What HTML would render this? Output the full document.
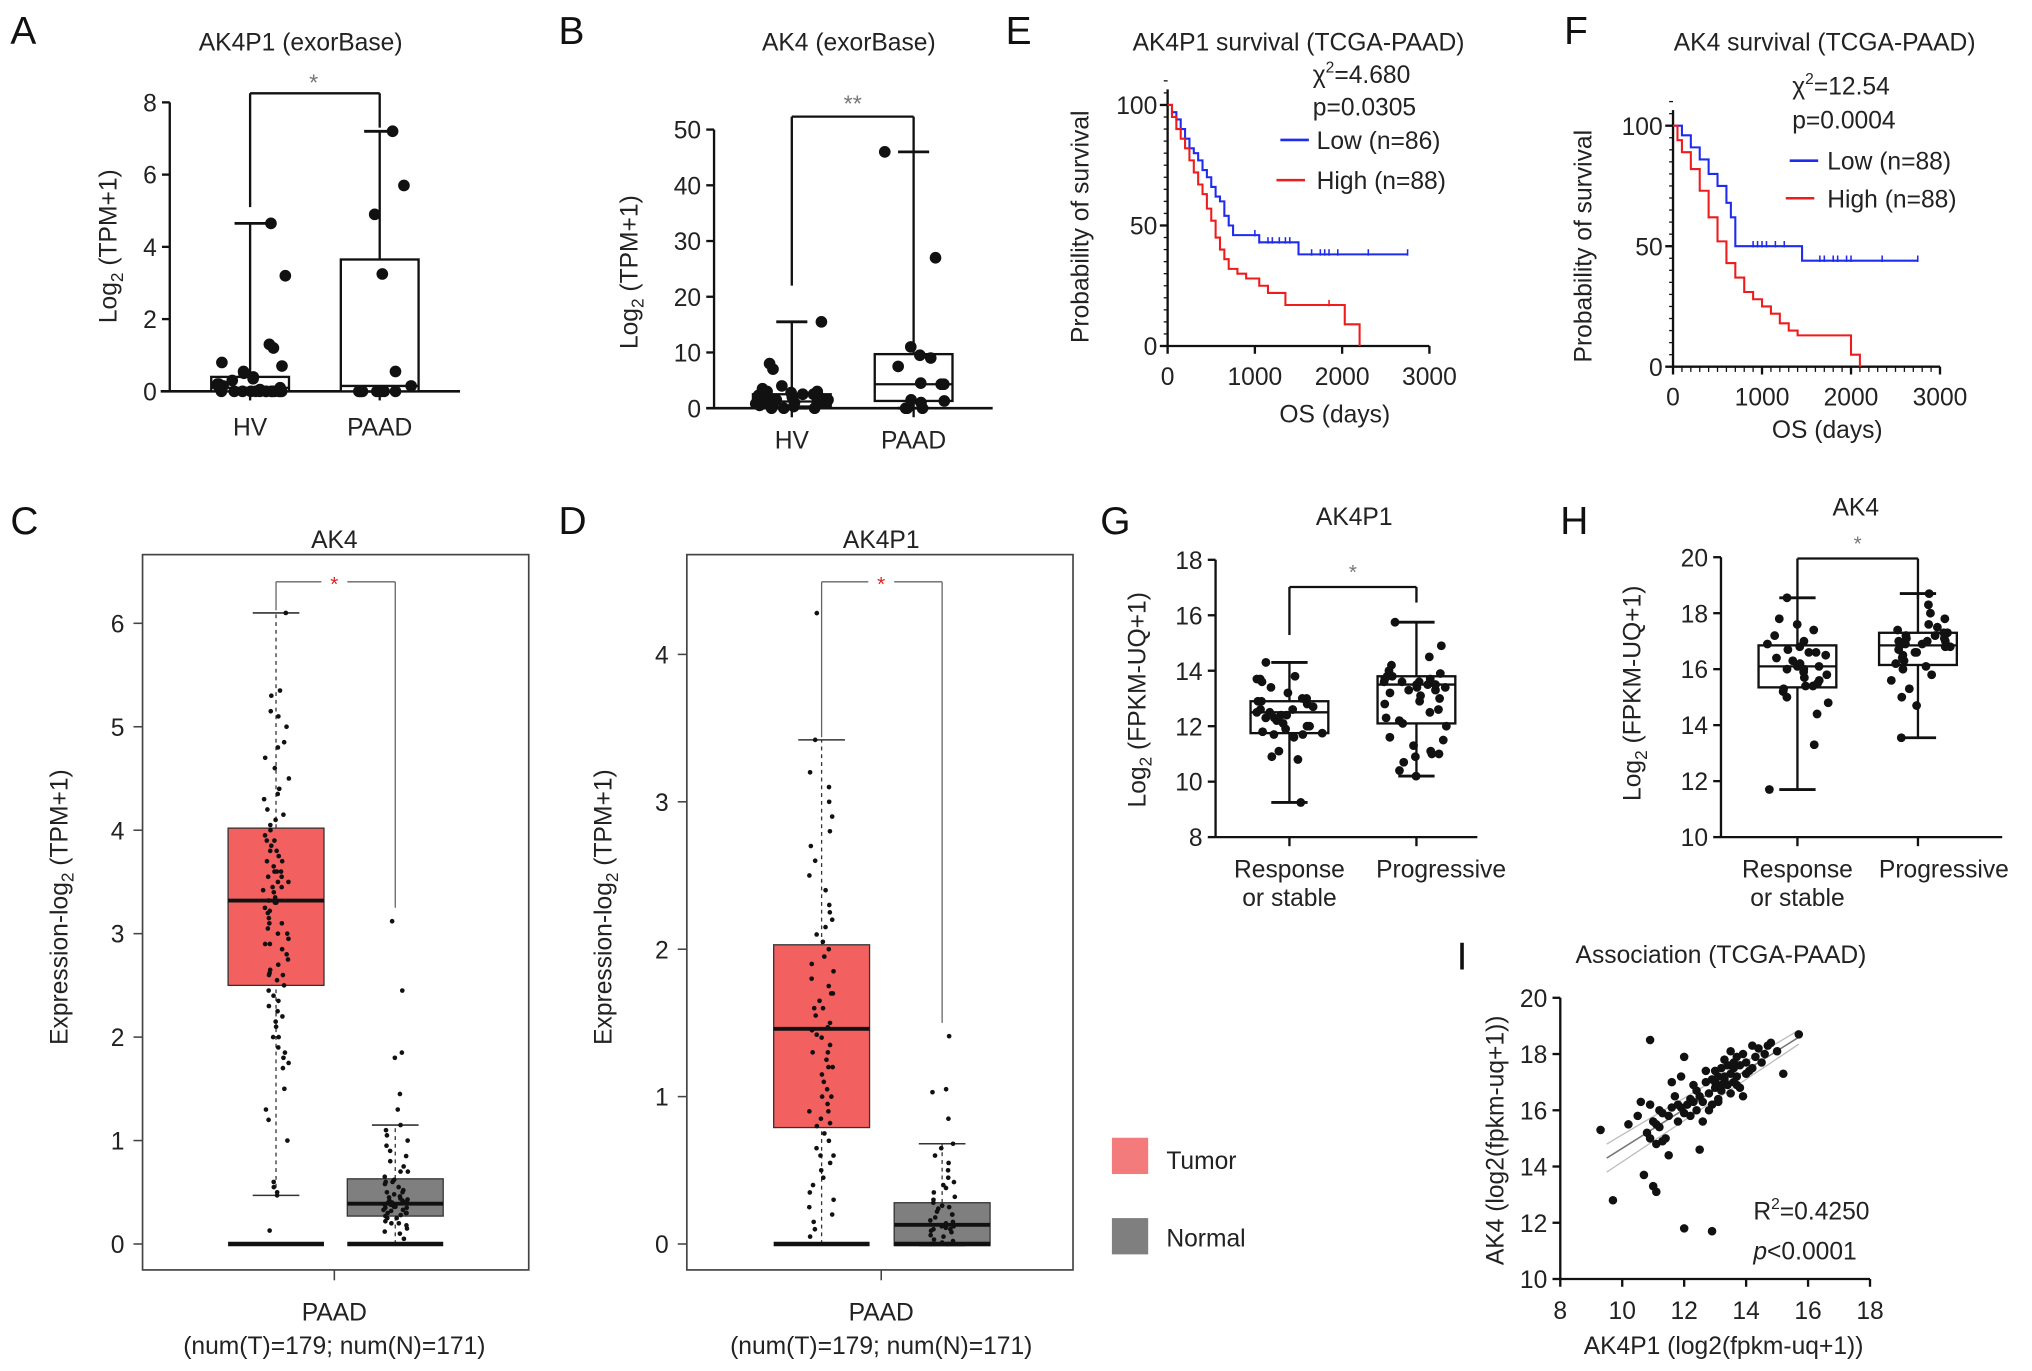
<!DOCTYPE html>
<html><head><meta charset="utf-8"><style>
html,body{margin:0;padding:0;background:#fff;}
svg{display:block;font-family:"Liberation Sans",Arial,sans-serif;}
</style></head><body>
<svg id="fig" xmlns="http://www.w3.org/2000/svg" width="2032" height="1371" viewBox="0 0 1568 1058" preserveAspectRatio="none"></svg>
<script>
// ---------- DATA ----------
const aCats=["HV","PAAD"];
const aHV=[0,0,0,0,0,0,0,0,0,0,0,0,0,0,0.05,0.1,0.1,0.15,0.2,0.2,0.3,0.35,0.4,0.5,0.55,0.7,0.8,1.2,1.3,3.2,4.65];
const aPAAD=[0,0,0,0,0,0,0,0,0.15,0.55,3.25,4.9,5.7,7.2];
const aBoxHV=[0,0,0.1,0.4,4.65];
const aBoxPAAD=[0,0,0.15,3.65,7.2];
const aTicks=[0,2,4,6,8];
const bHV=[0,0,0,0.3,0.5,0.8,1,1,1.2,1.5,1.5,2,2,2,2.3,2.5,2.5,2.8,3,3,3.5,4,1,0.5,7,8,15.5];
const bPAAD=[0,0,0,1,1.3,1.5,4.3,4.5,4.3,7.5,9,9.5,11,27,46];
const bBoxHV=[0,0.3,1.2,2.5,15.5];
const bBoxPAAD=[0,1.3,4.3,9.7,46];
const bTicks=[0,10,20,30,40,50];
const eLowT=[0,50,100,150,200,250,300,350,400,450,500,550,600,650,700,750,1050,1500,2750];
const eLowS=[100,97,94,90,86,82,80,77,73,70,66,62,60,54,50,46,43,38,38];
const eHighT=[0,50,100,150,200,250,300,350,400,450,500,550,600,650,700,800,900,1050,1150,1350,2030,2200];
const eHighS=[100,95,90,86,82,77,72,67,63,57,52,45,40,36,32,30,28,25,22,17,9,0];
const eLowCens=[1000,1050,1150,1200,1280,1350,1400,1650,1750,1800,1850,1950,2300,2750];
const eHighCens=[1850];
const fLowT=[0,100,200,300,400,500,600,650,700,1450,2750];
const fLowS=[100,96,91,86,80,75,68,62,50,44,44];
const fHighT=[0,50,100,200,300,400,500,600,700,800,900,1000,1100,1200,1300,1400,2000,2100];
const fHighS=[100,94,89,82,73,62,52,43,37,31,28,25,22,18,15,13,5,0];
const fLowCens=[900,950,1000,1050,1150,1250,1650,1700,1800,1850,1950,2000,2350,2750];
const kmXTicks=[0,1000,2000,3000];
const kmYTicks=[0,50,100];
const cTumor=[0.13,0.47,0.5,0.55,0.6,1.0,1.3,1.5,1.7,1.75,1.8,1.85,1.9,2.0,2.1,2.15,2.2,2.3,2.35,2.4,2.45,2.5,2.55,2.6,2.62,2.65,2.7,2.75,2.8,2.85,2.9,2.95,3.0,3.05,3.1,3.15,3.2,3.22,3.25,3.3,3.32,3.35,3.4,3.42,3.45,3.5,3.5,3.55,3.6,3.6,3.65,3.7,3.7,3.75,3.8,3.8,3.85,3.9,3.9,3.95,4.0,4.05,4.1,4.15,4.2,4.3,4.35,4.4,4.5,4.6,4.7,4.8,4.85,5.0,5.1,5.15,5.3,5.35,6.1,2.0,2.6,3.1,3.3,3.6,2.9,3.45,1.2,2.25,3.0,3.55];
const cNormal=[0.05,0.1,0.12,0.15,0.18,0.2,0.22,0.25,0.27,0.28,0.3,0.3,0.32,0.33,0.35,0.35,0.36,0.37,0.38,0.39,0.4,0.4,0.41,0.42,0.43,0.45,0.46,0.48,0.5,0.52,0.55,0.58,0.6,0.62,0.65,0.7,0.75,0.8,0.85,0.9,0.95,1.0,1.05,1.1,1.15,1.3,1.45,1.8,1.85,2.45,3.12,0.2,0.3,0.36,0.38,0.42,0.44,0.5,0.25,0.33,0.6,0.7];
const cBoxT=[0.47,2.5,3.32,4.02,6.1];
const cBoxN=[0,0.27,0.39,0.63,1.15];
const cTicks=[0,1,2,3,4,5,6];
const dTumor=[0.05,0.1,0.15,0.2,0.25,0.3,0.35,0.4,0.45,0.5,0.55,0.6,0.65,0.7,0.75,0.8,0.82,0.85,0.9,0.95,1.0,1.05,1.1,1.15,1.2,1.25,1.3,1.35,1.4,1.42,1.45,1.47,1.5,1.55,1.6,1.65,1.7,1.75,1.8,1.85,1.9,1.95,2.0,2.05,2.1,2.15,2.2,2.3,2.4,2.5,2.6,2.7,2.8,2.9,3.0,3.1,3.2,3.42,4.28,1.0,1.2,1.6,0.9,1.3,1.7,2.25,0.6];
const dNormal=[0,0,0.01,0.02,0.03,0.05,0.06,0.08,0.09,0.1,0.11,0.12,0.13,0.14,0.15,0.16,0.18,0.2,0.22,0.24,0.26,0.28,0.3,0.32,0.35,0.38,0.4,0.42,0.45,0.5,0.55,0.6,0.65,0.68,0.85,1.03,1.05,1.41,0.1,0.12,0.2,0.25];
const dBoxT=[0,0.79,1.46,2.03,3.42];
const dBoxN=[-0.01,-0.01,0.13,0.28,0.68];
const dTicks=[0,1,2,3,4];
const gResp=[9.25,10.8,10.9,11.1,11.6,11.7,11.75,11.8,11.9,12.0,12.1,12.2,12.3,12.4,12.4,12.5,12.5,12.6,12.7,12.8,12.9,12.9,13.0,13.2,13.4,13.6,13.7,13.7,13.8,14.3,12.0,11.7,12.3,12.6,13.0];
const gProg=[10.2,10.4,10.7,10.9,11.0,11.1,11.3,11.5,11.6,12.0,12.1,12.3,12.5,12.6,12.8,12.9,13.0,13.1,13.2,13.3,13.4,13.4,13.5,13.5,13.6,13.6,13.7,13.7,13.8,13.8,13.9,14.0,14.2,14.5,14.9,15.75,13.3,13.5,13.6,12.2,11.0];
const gBoxResp=[9.25,11.75,12.5,12.9,14.3];
const gBoxProg=[10.2,12.1,13.5,13.8,15.75];
const gTicks=[8,10,12,14,16,18];
const hResp=[11.7,13.3,14.4,14.8,15.0,15.2,15.3,15.4,15.5,15.6,15.7,15.8,15.9,16.0,16.1,16.1,16.2,16.3,16.4,16.5,16.6,16.7,16.8,16.9,17.0,17.2,17.4,17.6,17.8,18.55,15.4,16.0,16.6];
const hProg=[13.55,14.7,15.0,15.3,15.6,15.8,16.0,16.1,16.2,16.3,16.4,16.5,16.6,16.7,16.8,16.8,16.9,16.9,17.0,17.0,17.1,17.1,17.2,17.2,17.3,17.3,17.4,17.5,17.6,17.8,18.0,18.3,18.7,16.6,16.9,17.0];
const hBoxResp=[11.7,15.35,16.1,16.85,18.55];
const hBoxProg=[13.55,16.15,16.85,17.3,18.7];
const hTicks=[10,12,14,16,18,20];
const iX=[9.3,9.7,10.2,10.5,10.6,10.7,10.8,10.9,10.9,11.0,11.0,11.1,11.1,11.2,11.2,11.3,11.3,11.4,11.5,11.5,11.6,11.7,11.8,11.9,12.0,12.0,12.1,12.2,12.3,12.4,12.5,12.5,12.6,12.7,12.8,12.9,12.9,13.0,13.0,13.1,13.1,13.2,13.2,13.3,13.3,13.4,13.4,13.5,13.5,13.6,13.6,13.7,13.7,13.8,13.8,13.9,14.0,14.0,14.1,14.2,14.3,14.4,14.5,14.6,14.8,15.0,15.2,15.7,12.0,12.9,11.6,12.3,12.8,13.2,13.6,13.9,12.6,13.0,11.9,12.2,13.5,13.7,14.2,12.4,13.3,14.7,10.9,11.1,11.8,12.7,13.1];
const iY=[15.3,12.8,15.5,15.8,16.3,13.7,15.2,15.0,18.5,15.6,13.3,14.8,13.1,15.4,16.0,15.9,14.9,15.0,14.4,15.8,16.1,16.5,15.6,17.2,15.9,11.8,16.2,16.4,16.9,16.0,14.6,16.5,16.3,17.0,16.6,17.1,16.2,16.8,17.4,17.2,16.4,17.5,16.7,17.1,17.8,16.9,17.6,17.3,18.1,17.0,17.5,17.2,17.9,16.8,17.6,18.0,17.3,17.7,17.4,18.3,17.9,18.2,17.7,18.0,18.4,18.1,17.3,18.7,17.9,11.7,17.0,16.3,16.0,16.9,17.7,16.5,15.6,17.0,16.1,15.8,16.6,16.9,17.5,16.7,17.2,18.3,16.2,15.5,16.2,17.4,16.3];
const iTicksX=[8,10,12,14,16,18];
const iTicksY=[10,12,14,16,18,20];
const iFit=[9.5,14.3,15.7,18.6];

// ---------- HELPERS ----------
const NS="http://www.w3.org/2000/svg";
const svg=document.getElementById('fig');
function mk(tag,attrs,name,parent){
  const e=document.createElementNS(NS,tag);
  for(const k in attrs)e.setAttribute(k,attrs[k]);
  
  
  (parent||svg).appendChild(e);return e;
}
function txt(x,y,s,size,name,anchor,extra){
  const a=Object.assign({x:x,y:y,'font-size':size,'text-anchor':anchor||'middle',fill:'#222'},extra||{});
  const e=mk('text',a,name);e.textContent=s;return e;
}
function line(x1,y1,x2,y2,w,name,extra){
  return mk('line',Object.assign({x1:x1,y1:y1,x2:x2,y2:y2,stroke:'#111','stroke-width':w||1.5},extra||{}),name);
}
function lin(d0,d1,r0,r1){return v=>r0+(v-d0)*(r1-r0)/(d1-d0);}
function jit(i,hw){const s=Math.sin(i*12.9898+78.233)*43758.5453;return ((s-Math.floor(s))*2-1)*hw;}
function ytitle(x,y,parts,size,name){
  const t=mk('text',{x:0,y:0,'font-size':size,'text-anchor':'middle',fill:'#222',transform:`translate(${x},${y}) rotate(-90)`},name);
  parts.forEach(p=>{const s=document.createElementNS(NS,'tspan');
    if(p[1]){s.setAttribute('font-size',size*0.7);s.setAttribute('dy',size*0.25);}
    else if(p[2]){s.setAttribute('dy',-size*0.25);}
    s.textContent=p[0];t.appendChild(s);});
  return t;
}
function boxplot(xc,hw,capw,ys,b,name,fill){
  line(xc,ys(b[0]),xc,ys(b[4]),1.8,name+'-whisker');
  line(xc-capw,ys(b[4]),xc+capw,ys(b[4]),2.2,name+'-cap-top');
  line(xc-capw,ys(b[0]),xc+capw,ys(b[0]),2.2,name+'-cap-bottom');
  mk('rect',{x:xc-hw,y:ys(b[3]),width:2*hw,height:Math.max(1,ys(b[1])-ys(b[3])),fill:fill||'#fff',stroke:'#111','stroke-width':1.8},name+'-box');
  line(xc-hw,ys(b[2]),xc+hw,ys(b[2]),1.8,name+'-median');
}
function dots(xc,hw,ys,vals,r,name){
  vals.forEach((v,i)=>{mk('circle',{cx:xc+jit(i+xc,hw),cy:ys(v),r:r,fill:'#111'},name);});
}
function yaxis(x,ys,ticks,size,name,lx){
  line(x,ys(ticks[0]),x,ys(ticks[ticks.length-1]),1.8,name+'-line');
  ticks.forEach(t=>{line(x-6,ys(t),x,ys(t),1.8,name+'-tick');txt(lx||x-10,ys(t)+7,String(t),size,name+'-label','end');});
}
function letter(x,y,s){txt(x,y,s,30,'panel-label-'+s.toLowerCase(),'start',{fill:'#111'});}

// ---------- PANEL A ----------
letter(8,34,'A');
txt(232,39,'AK4P1 (exorBase)',19,'panel-a-title');
{const ys=lin(0,8,302,79);
yaxis(131,ys,aTicks,19,'a-y-axis',121);
line(124,302,355,302,2,'a-x-axis');
ytitle(90,190,[['Log'],['2',true],[' (TPM+1)',false,true]],19,'a-y-title');
const xs=[193,293];
aCats.forEach((c,i)=>{txt(xs[i],336,c,19,'a-x-label');line(xs[i],302,xs[i],309,1.8,'a-x-tick');});
boxplot(193,30,12,ys,aBoxHV,'a-box-hv');boxplot(293,30,12,ys,aBoxPAAD,'a-box-paad');
dots(193,28,ys,aHV,4.5,'a-dot-hv');dots(293,28,ys,aPAAD,4.5,'a-dot-paad');
line(193,72,293,72,1.8,'a-sig-bracket');line(193,72,193,ys(5.1),1.8,'a-sig-left');line(293,72,293,ys(7.3),1.8,'a-sig-right');
txt(242,70,'*',18,'a-sig-star','middle',{fill:'#777'});}

// ---------- PANEL B ----------
letter(431,34,'B');
txt(655,39,'AK4 (exorBase)',19,'panel-b-title');
{const ys=lin(0,50,315,100);
yaxis(551,ys,bTicks,19,'b-y-axis',541);
line(545,315,766,315,2,'b-x-axis');
ytitle(492,210,[['Log'],['2',true],[' (TPM+1)',false,true]],19,'b-y-title');
const xs=[611,705];
aCats.forEach((c,i)=>{txt(xs[i],346,c,19,'b-x-label');line(xs[i],315,xs[i],322,1.8,'b-x-tick');});
boxplot(611,30,12,ys,bBoxHV,'b-box-hv');boxplot(705,30,12,ys,bBoxPAAD,'b-box-paad');
dots(611,28,ys,bHV,4.5,'b-dot-hv');dots(705,28,ys,bPAAD,4.5,'b-dot-paad');
line(611,90,705,90,1.8,'b-sig-bracket');line(611,90,611,ys(22),1.8,'b-sig-left');line(705,90,705,ys(46),1.8,'b-sig-right');
txt(658,86,'**',18,'b-sig-star','middle',{fill:'#777'});}

// ---------- KM helper ----------
function km(xs,ys,T,S,col,name){
  let d=`M${xs(T[0])},${ys(S[0])}`;
  for(let i=1;i<T.length;i++){d+=` H${xs(T[i])} V${ys(S[i])}`;}
  mk('path',{d:d,fill:'none',stroke:col,'stroke-width':1.6},name);
}
function cens(xs,ys,T,S,C,col,name){
  C.forEach(c=>{let s=S[0];for(let i=0;i<T.length;i++){if(T[i]<=c)s=S[i];}
    line(xs(c),ys(s)-4,xs(c),ys(s)+1,1.2,name,{stroke:col});});
}
function kmAxes(x0,y0,yTop,xs,ys,pfx,minor){
  line(x0,ys(0),x0,ys(100)-12,1.8,pfx+'-y-axis-line');
  kmYTicks.forEach(t=>{line(x0-6,ys(t),x0,ys(t),1.8,pfx+'-y-tick');txt(x0-8,ys(t)+7,String(t),19,pfx+'-y-label','end');});
  for(let v=0;v<=110;v+=5)line(x0-3,ys(v),x0,ys(v),1,pfx+'-y-minor');
  line(x0,ys(0),xs(3000),ys(0),1.8,pfx+'-x-axis-line');
  kmXTicks.forEach(t=>{line(xs(t),ys(0),xs(t),ys(0)+6,1.8,pfx+'-x-tick');txt(xs(t),ys(0)+30,String(t),19,pfx+'-x-label');});
  if(minor)for(let v=0;v<=3000;v+=100)line(xs(v),ys(0),xs(v),ys(0)+4,1,pfx+'-x-minor');
}
// ---------- PANEL E ----------
letter(776,34,'E');
txt(1002,39,'AK4P1 survival (TCGA-PAAD)',19,'panel-e-title');
{const xs=lin(0,3000,901,1103),ys=lin(0,100,267,81);
kmAxes(901,267,81,xs,ys,'e',false);
km(xs,ys,eLowT,eLowS,'#1f2bef','e-curve-low');km(xs,ys,eHighT,eHighS,'#ee1c1c','e-curve-high');
cens(xs,ys,eLowT,eLowS,eLowCens,'#1f2bef','e-censor-low');cens(xs,ys,eHighT,eHighS,eHighCens,'#ee1c1c','e-censor-high');
txt(1030,326,'OS (days)',19,'e-x-title');
ytitle(840,175,[['Probability of survival']],19,'e-y-title');
const c=txt(1013,64,'',19,'e-chi2','start');c.innerHTML='χ<tspan font-size="12" dy="-8">2</tspan><tspan dy="8">=4.680</tspan>';
txt(1013,89,'p=0.0305',19,'e-pvalue','start');
line(988,108,1010,108,2,'e-legend-low-line',{stroke:'#1f2bef'});txt(1016,115,'Low (n=86)',19,'e-legend-low','start');
line(985,139,1007,139,2,'e-legend-high-line',{stroke:'#ee1c1c'});txt(1016,146,'High (n=88)',19,'e-legend-high','start');}

// ---------- PANEL F ----------
letter(1207,34,'F');
txt(1408,39,'AK4 survival (TCGA-PAAD)',19,'panel-f-title');
{const xs=lin(0,3000,1291,1497),ys=lin(0,100,283,97);
kmAxes(1291,283,97,xs,ys,'f',true);
km(xs,ys,fLowT,fLowS,'#1f2bef','f-curve-low');km(xs,ys,fHighT,fHighS,'#ee1c1c','f-curve-high');
cens(xs,ys,fLowT,fLowS,fLowCens,'#1f2bef','f-censor-low');
txt(1410,338,'OS (days)',19,'f-x-title');
ytitle(1228,190,[['Probability of survival']],19,'f-y-title');
const c=txt(1383,73,'',19,'f-chi2','start');c.innerHTML='χ<tspan font-size="12" dy="-8">2</tspan><tspan dy="8">=12.54</tspan>';
txt(1383,99,'p=0.0004',19,'f-pvalue','start');
line(1381,124,1403,124,2,'f-legend-low-line',{stroke:'#1f2bef'});txt(1410,131,'Low (n=88)',19,'f-legend-low','start');
line(1378,153,1400,153,2,'f-legend-high-line',{stroke:'#ee1c1c'});txt(1410,160,'High (n=88)',19,'f-legend-high','start');}

// ---------- PANELS C / D ----------
function gepia(x0,x1,y0,y1,ys,ticks,tum,nor,bT,bN,xT,xN,title,tx,pfx,bracketR){
  mk('rect',{x:x0,y:y0,width:x1-x0,height:y1-y0,fill:'none',stroke:'#444','stroke-width':1.3},pfx+'-frame');
  ticks.forEach(t=>{line(x0-7,ys(t),x0,ys(t),1.2,pfx+'-y-tick',{stroke:'#444'});txt(x0-14,ys(t)+7,String(t),19,pfx+'-y-label','end');});
  txt(tx,423,title,19,pfx+'-title');
  line(tx,y1,tx,y1+8,1.2,pfx+'-x-tick',{stroke:'#444'});
  txt(tx,1019,'PAAD',19,pfx+'-x-label');txt(tx,1045,'(num(T)=179; num(N)=171)',19,pfx+'-x-sublabel');
  [[xT,bT,'#f36060',tum,'tumor'],[xN,bN,'#7f7f7f',nor,'normal']].forEach(g=>{
    const [xc,b,col,v,nm]=g;
    line(xc,ys(b[3]),xc,ys(b[4]),1,pfx+'-'+nm+'-whisker-up',{stroke:'#333','stroke-dasharray':'3,3'});
    line(xc,ys(b[0]),xc,ys(b[1]),1,pfx+'-'+nm+'-whisker-down',{stroke:'#333','stroke-dasharray':'3,3'});
    line(xc-18,ys(b[4]),xc+18,ys(b[4]),1.2,pfx+'-'+nm+'-cap-top',{stroke:'#333'});
    line(xc-18,ys(b[0]),xc+18,ys(b[0]),1.2,pfx+'-'+nm+'-cap-bottom',{stroke:'#333'});
    mk('rect',{x:xc-37,y:ys(b[3]),width:74,height:ys(b[1])-ys(b[3]),fill:col,stroke:'#333','stroke-width':1},pfx+'-'+nm+'-box');
    line(xc-37,ys(b[2]),xc+37,ys(b[2]),3,pfx+'-'+nm+'-median');
    line(xc-37,ys(0),xc+37,ys(0),3.5,pfx+'-'+nm+'-zero-outliers');
    dots(xc,10,ys,v,1.8,pfx+'-'+nm+'-dot');
  });
  line(xT,449,xT-0,ys(bT[4])-2,1,pfx+'-sig-left',{stroke:'#666'});
  line(xT,449,tx-10,449,1,pfx+'-sig-bracket-l',{stroke:'#666'});
  line(tx+10,449,xN,449,1,pfx+'-sig-bracket-r',{stroke:'#666'});
  line(xN,449,xN,ys(bracketR),1,pfx+'-sig-right',{stroke:'#666'});
  txt(tx,456,'*',16,pfx+'-sig-star','middle',{fill:'#e02020'});
}
letter(8,412,'C');
gepia(110,408,428,980,lin(0,6,960,481),cTicks,cTumor,cNormal,cBoxT,cBoxN,213,305,'AK4',258,'c',3.25);
ytitle(52,700,[['Expression-log'],['2',true],[' (TPM+1)',false,true]],19,'c-y-title');
letter(431,412,'D');
gepia(530,828,428,980,lin(0,4,960,505),dTicks,dTumor,dNormal,dBoxT,dBoxN,634,727,'AK4P1',680,'d',1.5);
ytitle(472,700,[['Expression-log'],['2',true],[' (TPM+1)',false,true]],19,'d-y-title');
mk('rect',{x:858,y:878,width:28,height:28,fill:'#f37b7b'},'legend-tumor-swatch');
txt(900,902,'Tumor',19,'legend-tumor-label','start');
mk('rect',{x:858,y:940,width:28,height:28,fill:'#7f7f7f'},'legend-normal-swatch');
txt(900,962,'Normal',19,'legend-normal-label','start');

// ---------- PANELS G / H ----------
function resp(ax,ys,ticks,x1,xA,xB,bA,bB,vA,vB,pfx,brY,lA,lB,progX,labY){
  yaxis(ax,ys,ticks,19,pfx+'-y-axis',ax-10);
  line(ax,ys(ticks[0]),x1,ys(ticks[0]),1.8,pfx+'-x-axis');
  line(xA,ys(ticks[0]),xA,ys(ticks[0])+7,1.8,pfx+'-x-tick');line(xB,ys(ticks[0]),xB,ys(ticks[0])+7,1.8,pfx+'-x-tick');
  boxplot(xA,30,14,ys,bA,pfx+'-box-response');boxplot(xB,30,14,ys,bB,pfx+'-box-progressive');
  dots(xA,26,ys,vA,3.4,pfx+'-dot-response');dots(xB,26,ys,vB,3.4,pfx+'-dot-progressive');
  line(xA,brY,xB,brY,1.8,pfx+'-sig-bracket');line(xA,brY,xA,lA,1.8,pfx+'-sig-left');line(xB,brY,xB,lB,1.8,pfx+'-sig-right');
  txt((xA+xB)/2,brY-6,'*',16,pfx+'-sig-star','middle',{fill:'#777'});
  txt(xA,labY,'Response',19,pfx+'-x-label-response');txt(xA,labY+22,'or stable',19,pfx+'-x-label-response-2');
  txt(progX,labY,'Progressive',19,pfx+'-x-label-progressive');
}
letter(849,412,'G');
txt(1045,405,'AK4P1',19,'panel-g-title');
resp(938,lin(8,18,646,432),gTicks,1140,995,1093,gBoxResp,gBoxProg,gResp,gProg,'g',453,490,465,1112,677);
ytitle(884,540,[['Log'],['2',true],[' (FPKM-UQ+1)',false,true]],19,'g-y-title');
letter(1204,412,'H');
txt(1432,398,'AK4',19,'panel-h-title');
resp(1328,lin(10,20,646,430),hTicks,1545,1387,1480,hBoxResp,hBoxProg,hResp,hProg,'h',431,462,462,1500,677);
ytitle(1266,535,[['Log'],['2',true],[' (FPKM-UQ+1)',false,true]],19,'h-y-title');

// ---------- PANEL I ----------
letter(1124,748,'I');
txt(1328,743,'Association (TCGA-PAAD)',19,'panel-i-title');
{const xs=lin(8,18,1204,1443),ys=lin(10,20,987,770);
line(1204,ys(10),1204,ys(20),1.8,'i-y-axis-line');
iTicksY.forEach(t=>{line(1198,ys(t),1204,ys(t),1.8,'i-y-tick');txt(1194,ys(t)+7,String(t),19,'i-y-label','end');});
line(1204,ys(10),1443,ys(10),1.8,'i-x-axis-line');
iTicksX.forEach(t=>{line(xs(t),ys(10),xs(t),ys(10)+6,1.8,'i-x-tick');txt(xs(t),1018,String(t),19,'i-x-label');});
const fx=[iFit[0],iFit[2]],fy=[iFit[1],iFit[3]];
line(xs(fx[0]),ys(fy[0]),xs(fx[1]),ys(fy[1]),1.2,'i-fit-line',{stroke:'#777'});
line(xs(fx[0]),ys(fy[0]+0.5),xs(fx[1]),ys(fy[1]+0.25),1,'i-ci-upper',{stroke:'#bbb'});
line(xs(fx[0]),ys(fy[0]-0.5),xs(fx[1]),ys(fy[1]-0.25),1,'i-ci-lower',{stroke:'#bbb'});
iX.forEach((v,i)=>{mk('circle',{cx:xs(v),cy:ys(iY[i]),r:3.3,fill:'#111'},'i-point');});
const r=txt(1353,941,'',19,'i-r2','start');r.innerHTML='R<tspan font-size="12" dy="-8">2</tspan><tspan dy="8">=0.4250</tspan>';
const p=txt(1353,972,'',19,'i-pvalue','start');p.innerHTML='<tspan font-style="italic">p</tspan>&lt;0.0001';
txt(1330,1045,'AK4P1 (log2(fpkm-uq+1))',19,'i-x-title');
ytitle(1160,880,[['AK4 (log2(fpkm-uq+1))']],19,'i-y-title');}
</script>
</body></html>
